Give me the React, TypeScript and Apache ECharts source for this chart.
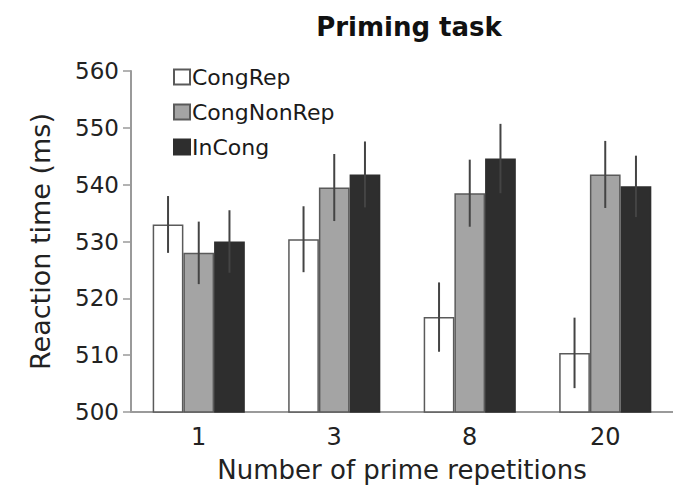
import React, { useEffect, useRef } from "react";
import * as echarts from "echarts";

// Prime repetition counts on the x axis
const repetitions = ["1", "3", "8", "20"];

// Mean reaction times (ms) per condition
const congRep = [533, 530.4, 516.7, 510.4];
const congNonRep = [528, 539.5, 538.5, 541.8];
const inCong = [530, 541.8, 544.6, 539.7];

// Error bar half-lengths (ms)
const congRepErr = [5, 5.8, 6.1, 6.2];
const congNonRepErr = [5.5, 5.9, 5.9, 5.9];
const inCongErr = [5.5, 5.8, 6.1, 5.4];

const seriesNames = ["CongRep", "CongNonRep", "InCong"];
const yTicks = [500, 510, 520, 530, 540, 550, 560];

const FONT = "DejaVu Sans, Liberation Sans, Arial, sans-serif";
const CATEGORY_GAP = 0.32;

export default function App() {
  const ref = useRef<HTMLDivElement>(null);

  useEffect(() => {
    if (!ref.current) return;
    const chart = echarts.init(ref.current, undefined, { renderer: "svg" });

    const means = [congRep, congNonRep, inCong];
    const errs = [congRepErr, congNonRepErr, inCongErr];
    const fills = ["#ffffff", "#a4a4a4", "#2e2e2e"];
    const borders = ["#5a5a5a", "#5a5a5a", "#2e2e2e"];

    const barSeries = seriesNames.map((name, i) => ({
      name,
      type: "bar",
      data: means[i],
      barGap: "0%",
      barCategoryGap: `${CATEGORY_GAP * 100}%`,
      itemStyle: { color: fills[i], borderColor: borders[i], borderWidth: 1.5 },
      z: 2,
    }));

    const errSeries = seriesNames.map((name, i) => ({
      name: name + "-err",
      type: "custom",
      z: 5,
      silent: true,
      data: means[i].map((m, k) => [k, m - errs[i][k], m + errs[i][k]]),
      encode: { x: 0, y: [1, 2] },
      renderItem: (params: any, api: any) => {
        const cat = api.value(0);
        const lo = api.coord([cat, api.value(1)]);
        const hi = api.coord([cat, api.value(2)]);
        const band = api.size([1, 0])[0];
        const bw = (band * (1 - CATEGORY_GAP)) / 3;
        const x = lo[0] + (i - 1) * bw;
        return {
          type: "line",
          shape: { x1: x, y1: lo[1], x2: x, y2: hi[1] },
          style: { stroke: "#444444", lineWidth: 2 },
        };
      },
    }));

    chart.setOption({
      animation: false,
      backgroundColor: "#ffffff",
      title: {
        text: "Priming task",
        left: 404,
        top: 9,
        textAlign: "center",
        textStyle: { fontFamily: FONT, fontSize: 26, fontWeight: "bold", color: "#111" },
      },
      legend: {
        orient: "vertical",
        left: 168,
        top: 61,
        itemGap: 13,
        itemWidth: 16,
        itemHeight: 15,
        icon: "rect",
        data: seriesNames,
        textStyle: { fontFamily: FONT, fontSize: 22, color: "#1a1a1a", padding: [0, 0, 0, -3] },
      },
      grid: { left: 131, top: 71, width: 556, height: 341 },
      xAxis: {
        type: "category",
        data: repetitions,
        axisLine: { lineStyle: { color: "#9a9a9a", width: 2 } },
        axisTick: { show: false },
        axisLabel: { fontFamily: FONT, fontSize: 24, color: "#222", margin: 13 },
        name: "Number of prime repetitions",
        nameLocation: "middle",
        nameGap: 45,
        nameTextStyle: { fontFamily: FONT, fontSize: 26, color: "#222" },
      },
      yAxis: {
        type: "value",
        min: yTicks[0],
        max: yTicks[yTicks.length - 1],
        interval: 10,
        splitLine: { show: false },
        axisLine: { show: true, lineStyle: { color: "#9a9a9a", width: 2 } },
        axisTick: { show: true, length: 8, lineStyle: { color: "#9a9a9a", width: 1.5 } },
        axisLabel: { fontFamily: FONT, fontSize: 23, color: "#222", margin: 12 },
        name: "Reaction time (ms)",
        nameLocation: "middle",
        nameGap: 77,
        nameTextStyle: { fontFamily: FONT, fontSize: 27, color: "#222" },
      },
      series: [...barSeries, ...errSeries],
    });

    return () => chart.dispose();
  }, []);

  return (
    <div
      ref={ref}
      style={{ position: "fixed", left: 0, top: 0, width: 673, height: 493, overflow: "hidden" }}
    />
  );
}
